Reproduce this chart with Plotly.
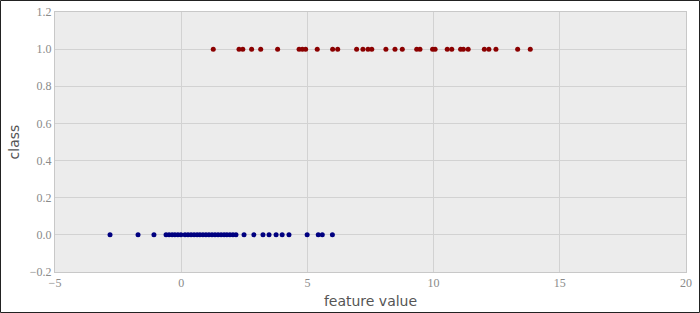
import plotly.graph_objects as go

class0_x = [-2.82, -1.71, -1.08, -0.60, -0.48, -0.36, -0.25, -0.13, -0.01, 0.15, 0.27, 0.39,
            0.51, 0.63, 0.74, 0.86, 0.98, 1.10, 1.22, 1.34, 1.46, 1.58, 1.70, 1.81, 1.93,
            2.05, 2.17, 2.49, 2.88, 3.24, 3.48, 3.76, 4.00, 4.27, 4.99, 5.43, 5.59, 5.99]
class0_y = [0.0] * len(class0_x)

class1_x = [1.27, 2.29, 2.44, 2.79, 3.15, 3.82, 4.67, 4.80, 4.93, 5.39, 6.00, 6.20, 6.95,
            7.20, 7.40, 7.55, 8.11, 8.47, 8.76, 9.33, 9.46, 9.96, 10.06, 10.54, 10.72,
            11.07, 11.18, 11.37, 12.01, 12.19, 12.47, 13.33, 13.83]
class1_y = [1.0] * len(class1_x)

x_ticks = [-5, 0, 5, 10, 15, 20]
y_ticks = [-0.2, 0.0, 0.2, 0.4, 0.6, 0.8, 1.0, 1.2]

W, H = 700, 313
ML, MR, MT, MB = 55, 14, 12, 41
PW, PH = W - ML - MR, H - MT - MB

fig = go.Figure()
fig.add_trace(go.Scatter(x=class0_x, y=class0_y, mode="markers",
                         marker=dict(color="#000080", size=5, line=dict(width=0)),
                         showlegend=False))
fig.add_trace(go.Scatter(x=class1_x, y=class1_y, mode="markers",
                         marker=dict(color="#8b0000", size=5, line=dict(width=0)),
                         showlegend=False))

tickfont = dict(family="Liberation Serif, DejaVu Serif, serif", size=12, color="#8a8a8a")
axis_common = dict(showgrid=True, gridcolor="#d2d2d2", gridwidth=1, zeroline=False,
                   showline=True, linecolor="#c8c8c8", linewidth=1, mirror=True,
                   ticks="", tickfont=tickfont, automargin=False)

fig.update_layout(
    width=W, height=H,
    margin=dict(l=ML, r=MR, t=MT, b=MB, autoexpand=False),
    paper_bgcolor="white", plot_bgcolor="#ececec",
    xaxis=dict(range=[-5, 20], tickvals=x_ticks, ticktext=[("\u2212" + str(-v)) if v < 0 else str(v) for v in x_ticks],
               title=dict(text="feature value", font=dict(family="DejaVu Sans, sans-serif", size=14, color="#555555"), standoff=6),
               **axis_common),
    yaxis=dict(range=[-0.2, 1.2], tickvals=y_ticks,
               ticktext=[("\u2212%.1f" % -v) if v < 0 else "%.1f" % v for v in y_ticks],
               title=dict(text="class", font=dict(family="DejaVu Sans, sans-serif", size=14, color="#555555"), standoff=6),
               **axis_common),
    shapes=[dict(type="rect", xref="paper", yref="paper",
                 x0=(0.5 - ML) / PW, x1=(W - 0.5 - ML) / PW,
                 y0=-(MB - 0.5) / PH, y1=1 + (MT - 0.5) / PH,
                 line=dict(color="#222222", width=1), fillcolor="rgba(0,0,0,0)", layer="above")],
)

fig.write_html("out.html")
